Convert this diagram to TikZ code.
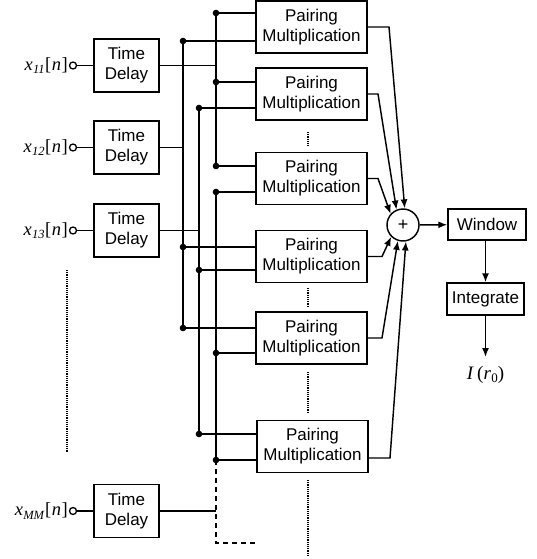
\documentclass[tikz,border=0pt]{standalone}
\usepackage{fontspec}
\setmainfont{Liberation Serif}
\setsansfont{Liberation Sans}
\usetikzlibrary{arrows.meta}
\newcommand\xlab[1]{\textit{x}\kern0.3pt\raisebox{-3.5pt}{\fontsize{12.5}{12.5}\selectfont\textit{#1}}\kern0.5pt[\kern0.5pt\textit{n}\kern0.5pt]}
\begin{document}
\begin{tikzpicture}[x=1pt,y=-1pt,
  ln/.style={line width=1.45pt},
  boxbase/.style={draw,line width=1.45pt,font=\sffamily\fontsize{17}{20}\selectfont,align=center,inner sep=0pt},
  tdbox/.style={boxbase,minimum width=65pt,minimum height=53pt},
  pmbox/.style={boxbase,minimum width=111pt,minimum height=52pt},
  outbox/.style={boxbase,minimum height=31pt},
  incirc/.style={draw,circle,line width=1.3pt,minimum size=7pt,inner sep=0pt},
  sumcirc/.style={draw,circle,line width=1.45pt,minimum size=32pt,inner sep=0pt,font=\sffamily\fontsize{18}{18}\selectfont},
  lab/.style={anchor=east,inner sep=0pt,font=\fontsize{18.5}{18.5}\selectfont},
  arr/.style={ln,-{Latex[length=9pt,width=7pt]}},
  dotl/.style={line width=1.6pt,dash pattern=on 1.1pt off 1.1pt},
  dashl/.style={line width=1.45pt,dash pattern=on 5pt off 4pt},
  jdot/.style={fill=black}
]
\useasboundingbox (0,0) rectangle (536,559);

% Time delay boxes
\node[tdbox] (td1) at (126.5,65.5) {Time\\Delay};
\node[tdbox] (td2) at (126.5,147.5) {Time\\Delay};
\node[tdbox] (td3) at (126.5,230.5) {Time\\Delay};
\node[tdbox] (tdm) at (126.5,511) {Time\\Delay};

% input circles and labels
\node[incirc] (c1) at (73,65.5) {};
\node[incirc] (c2) at (73,147.5) {};
\node[incirc] (c3) at (73,230.5) {};
\node[incirc] (cm) at (73,511) {};
\node[lab] (l1) at (68,65.5) {\xlab{11}};
\node[lab] (l2) at (68,147.5) {\xlab{12}};
\node[lab] (l3) at (68,230.5) {\xlab{13}};
\node[lab] (lm) at (68,511) {\xlab{MM}};
\draw[ln] (c1) -- (td1);
\draw[ln] (c2) -- (td2);
\draw[ln] (c3) -- (td3);
\draw[ln] (cm) -- (tdm);

% pairing multiplication boxes
\node[pmbox] (pm1) at (311.5,27) {Pairing\\Multiplication};
\node[pmbox] (pm2) at (311.5,94) {Pairing\\Multiplication};
\node[pmbox] (pm3) at (311.5,178.5) {Pairing\\Multiplication};
\node[pmbox] (pm4) at (311.5,256.5) {Pairing\\Multiplication};
\node[pmbox] (pm5) at (311.5,338) {Pairing\\Multiplication};
\node[pmbox] (pm6) at (312.5,446.5) {Pairing\\Multiplication};

% bus junction coordinates
\coordinate (a1) at (183,41);  \coordinate (a2) at (183,247); \coordinate (a3) at (183,328);
\coordinate (b1) at (199,108); \coordinate (b2) at (199,270); \coordinate (b3) at (199,434);
\coordinate (k1) at (216,13);  \coordinate (k2) at (216,82);  \coordinate (k3) at (216,166);
\coordinate (d1) at (216,192); \coordinate (d2) at (216,353); \coordinate (d3) at (216,460);
\coordinate (dE) at (216,543); \coordinate (dR) at (255,543);

% buses
\draw[ln] (a1) -- (a3);
\draw[ln] (b1) -- (b3);
\draw[ln] (k1) -- (k3);
\draw[ln] (d1) -- (d3);
\draw[dashl] (d3) -- (dE) -- (dR);

% delay outputs to buses
\draw[ln] (td1.east) -- (td1.east -| k1);
\draw[ln] (td2.east) -- (td2.east -| a1);
\draw[ln] (td3.east) -- (td3.east -| b1);
\draw[ln] (tdm.east) -- (tdm.east -| dE);

% bus taps to pairing boxes
\foreach \p/\b in {k1/pm1,a1/pm1,k2/pm2,b1/pm2,k3/pm3,d1/pm3,a2/pm4,b2/pm4,a3/pm5,d2/pm5,b3/pm6,d3/pm6}{
  \draw[ln] (\p) -- (\p -| \b.west);
  \fill[jdot] (\p) circle (3.3pt);
}

% summation
\node[sumcirc] (sum) at (403,225) {+};
\coordinate (o1) at (389,27);
\coordinate (o2) at (378,94);
\coordinate (o3) at (378,178.5);
\coordinate (o4) at (382,256.5);
\coordinate (o5) at (382,338);
\coordinate (o6) at (390,458);
\draw[arr] (pm1.east) -- (o1) -- (sum.84);
\draw[arr] (pm2.east) -- (o2) -- (sum.113);
\draw[arr] (pm3.east) -- (o3) -- (sum.138);
\draw[arr] (pm4.east) -- (o4) -- (sum.225);
\draw[arr] (pm5.east) -- (o5) -- (sum.252);
\draw[arr] (pm6.east |- o6) -- (o6) -- (sum.280);

% window / integrate
\node[outbox,minimum width=78pt] (win) at (487,224.5) {Window};
\node[outbox,minimum width=77pt,minimum height=32pt] (int) at (485.5,299) {Integrate};
\coordinate (iend) at (485.5,357);
\node[inner sep=0pt,font=\fontsize{19}{19}\selectfont] (res) at (485.5,375) {\textit{I}\,(\textit{r}\kern0.3pt\raisebox{-3pt}{\fontsize{13}{13}\selectfont 0})};
\draw[arr] (sum) -- (win);
\draw[arr] (win.south -| int.north) -- (int.north);
\draw[arr] (int.south) -- (iend);

% dotted continuation marks
\draw[dotl] (308,132) -- (308,146);
\draw[dotl] (308,288) -- (308,307);
\draw[dotl] (308,372) -- (308,413);
\draw[dotl] (308,480) -- (308,556);
\draw[dotl] (67,270) -- (67,452);
\end{tikzpicture}
\end{document}
